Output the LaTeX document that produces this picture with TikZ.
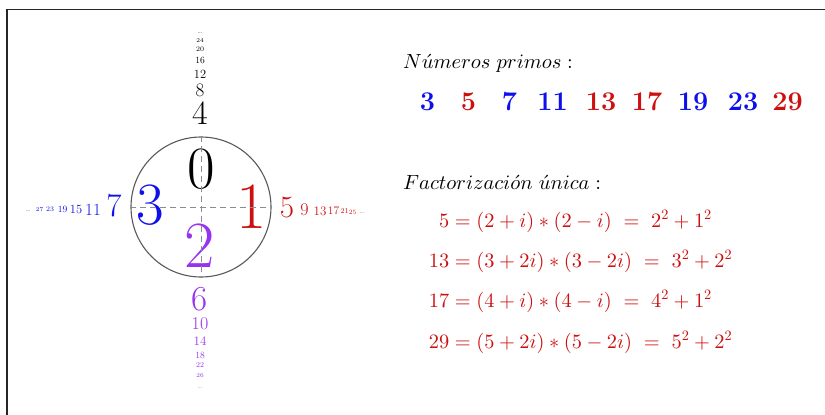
\documentclass[tikz,border=0pt]{standalone}
\DeclareFontShape{OT1}{cmr}{m}{n}{<->cmr10}{}
\DeclareFontShape{OT1}{cmr}{bx}{n}{<->cmbx10}{}
\DeclareFontShape{OML}{cmm}{m}{it}{<->cmmi10}{}
\DeclareFontShape{OMS}{cmsy}{m}{n}{<->cmsy10}{}
\DeclareFontShape{OMX}{cmex}{m}{n}{<->cmex10}{}
\newcommand\fsz[1]{\fontsize{#1}{#1}\selectfont}
\definecolor{cred}{RGB}{205,15,15}
\definecolor{cblue}{RGB}{15,15,235}
\definecolor{cpurple}{RGB}{150,50,240}
\tikzset{
  num/.style={inner sep=0pt, font=\fsz{#1}},
  ring/.style={circle, draw=black!65, line width=1.1pt, minimum size=140pt, inner sep=0pt},
  axis/.style={draw=black!45, line width=0.9pt, dash pattern=on 6pt off 4pt},
  frameline/.style={draw=black!85, line width=1.4pt},
  prime/.style={inner sep=0pt, anchor=base, font=\fsz{27}\bfseries},
  eqn/.style={inner sep=0pt, anchor=base west, text=cred, font=\fsz{20.4}},
  head/.style={inner sep=0pt, anchor=base west, font=\fsz{20.5}}
}
\begin{document}
\begin{tikzpicture}[x=1pt,y=-1pt]
\useasboundingbox (0,0) rectangle (825,415);
\coordinate (fa) at (7,415);
\coordinate (fb) at (7,9.5);
\coordinate (fc) at (825,9.5);
\draw[frameline] (fa) -- (fb) -- (fc);

% circle and axes
\node[ring] (c) at (201,207) {};
\node[num=60] (n0) at (201,169) {0};
\node[num=66, text=cred] (n1) at (252,207) {1};
\node[num=60, text=cblue] (n3) at (150,205) {3};
\node[num=66, text=cpurple] (n2) at (200,246) {2};
\draw[axis] (c.west) -- (c.east);
\draw[axis] (c.north) -- (c.south);

% top column
\node[num=34] (t4) at (200,113) {4};
\node[num=19] (t8) at (200,90) {8};
\node[num=12.5] (t12) at (200,74) {12};
\node[num=9.5] (t16) at (200,60) {16};
\node[num=7] (t20) at (200,49) {20};
\node[num=6] (t24) at (200,40) {24};
\node[num=6, anchor=base] (tdots) at (200,33) {\dots};

% bottom column
\node[num=35, text=cpurple] (b6) at (200,299) {6};
\node[num=18, text=cpurple] (b10) at (200,324) {10};
\node[num=13, text=cpurple] (b14) at (200,341) {14};
\node[num=9.5, text=cpurple] (b18) at (200,355) {18};
\node[num=7.5, text=cpurple] (b22) at (200,365.5) {22};
\node[num=6, text=cpurple] (b26) at (200,376) {26};
\node[num=6, anchor=base, text=cpurple] (bdots) at (200,388) {\dots};

% right row
\node[num=31, text=cred] (r5) at (287,208) {5};
\node[num=18, text=cred] (r9) at (304.5,209.5) {9};
\node[num=13, text=cred] (r13) at (320,211) {13};
\node[num=11.5, text=cred] (r17) at (333.5,211) {17};
\node[num=7.5, text=cred] (r21) at (344.5,211.5) {21};
\node[num=6.5, text=cred] (r25) at (352.5,212) {25};
\node[num=6, anchor=base, text=cred] (rdots) at (362,213.5) {\dots};

% left row
\node[num=33, text=cblue] (l7) at (114,206) {7};
\node[num=17, text=cblue] (l11) at (93,209.5) {11};
\node[num=12.5, text=cblue] (l15) at (76,209.5) {15};
\node[num=9.5, text=cblue] (l19) at (62.5,209.5) {19};
\node[num=7, text=cblue] (l23) at (50,209.5) {23};
\node[num=6, text=cblue] (l27) at (39.5,209.5) {27};
\node[num=6, anchor=base, text=cblue] (ldots) at (28,211.5) {\dots};

% right side texts
\node[head] (h1) at (403,68) {$N\acute{u}meros\ primos:$};
\node[prime, text=cblue] (p3) at (427.5,110) {3};
\node[prime, text=cred] (p5) at (468.5,110) {5};
\node[prime, text=cblue] (p7) at (509.5,110) {7};
\node[prime, text=cblue] (p11) at (552.5,110) {11};
\node[prime, text=cred] (p13) at (601,110) {13};
\node[prime, text=cred] (p17) at (647,110) {17};
\node[prime, text=cblue] (p19) at (693,110) {19};
\node[prime, text=cblue] (p23) at (743,110) {23};
\node[prime, text=cred] (p29) at (787.5,110) {29};

\node[head] (h2) at (403,189) {$Factorizaci\acute{o}n\ \acute{u}nica:$};
\node[eqn] (e1) at (449,227) {$\llap{$5$}=(2+i)*(2-i)\ =\ 2^2+1^2$};
\node[eqn] (e2) at (449,267) {$\llap{$13$}=(3+2i)*(3-2i)\ =\ 3^2+2^2$};
\node[eqn] (e3) at (449,307) {$\llap{$17$}=(4+i)*(4-i)\ =\ 4^2+1^2$};
\node[eqn] (e4) at (449,348) {$\llap{$29$}=(5+2i)*(5-2i)\ =\ 5^2+2^2$};
\end{tikzpicture}
\end{document}
